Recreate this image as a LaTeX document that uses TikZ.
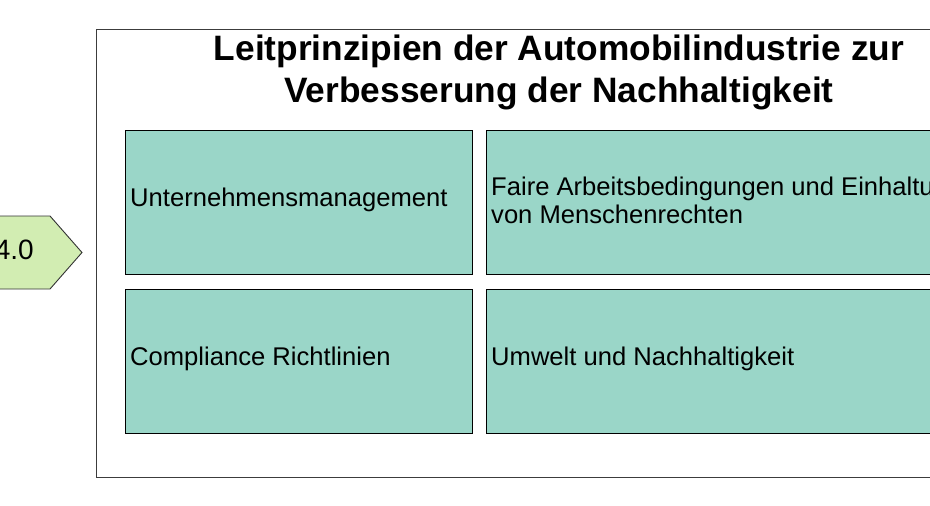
\documentclass[tikz,border=0pt]{standalone}
\usepackage{fontspec}
\setmainfont{Liberation Sans}
\definecolor{boxteal}{RGB}{154,214,200}
\definecolor{arrowgreen}{RGB}{210,237,178}
\definecolor{framegray}{RGB}{60,60,60}
\begin{document}
\begin{tikzpicture}[x=1pt, y=-1pt,
    titletext/.style={font=\fontsize{35.3}{42}\selectfont\bfseries, align=center, inner sep=0pt},
    topicbox/.style={draw=black, fill=boxteal, line width=0.9pt, anchor=north west,
        minimum height=144pt, inner sep=0pt},
    topictext/.style={font=\fontsize{25.6}{28}\selectfont, align=left, anchor=west, inner sep=0pt}]
    \useasboundingbox (0,0) rectangle (930,506);
    \clip (0,0) rectangle (930,506);

    % outer frame and heading
    \node[draw=framegray, line width=0.9pt, anchor=north west, minimum width=926pt,
        minimum height=448pt, inner sep=0pt] (frame) at (96,29) {};
    \node[titletext, anchor=base] (title) at (559,102)
        {Leitprinzipien der Automobilindustrie zur\\Verbesserung der Nachhaltigkeit};

    % the four fields
    \node[topicbox, minimum width=347pt] (mgmt) at (125,130) {};
    \node[topicbox, minimum width=507pt] (work) at (486,130) {};
    \node[topicbox, minimum width=347pt] (comp) at (125,289) {};
    \node[topicbox, minimum width=507pt] (env) at (486,289) {};

    \node[topictext] at ([xshift=5pt, yshift=3pt]mgmt.west) {Unternehmensmanagement};
    \node[topictext] at ([xshift=5pt, yshift=2pt]work.west)
        {Faire Arbeitsbedingungen und Einhaltung\\von Menschenrechten};
    \node[topictext] at ([xshift=5pt, yshift=3pt]comp.west) {Compliance Richtlinien};
    \node[topictext] at ([xshift=5pt, yshift=3pt]env.west) {Umwelt und Nachhaltigkeit};

    % arrow shape on the left
    \draw[draw=black!80, fill=arrowgreen, line width=0.9pt]
        (-100,216) -- (50,216) -- (82,252.5) -- (50,289) -- (-100,289) -- cycle;
    \node[font=\fontsize{28}{32}\selectfont, anchor=base east, inner sep=0pt] (ind) at (34,259) {4.0};
\end{tikzpicture}
\end{document}
